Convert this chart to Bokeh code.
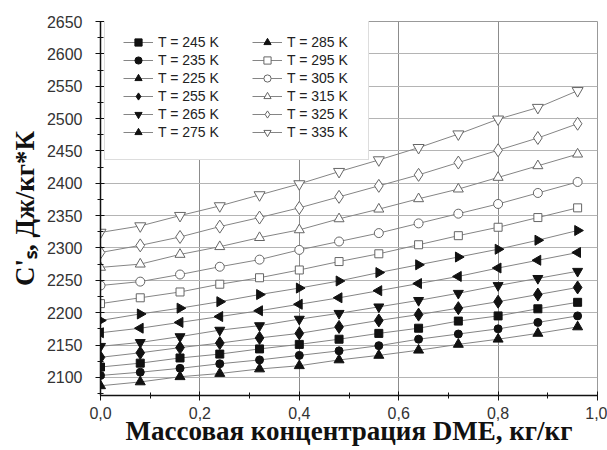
import math
from bokeh.plotting import figure
from bokeh.models import (Legend, LegendItem, SingleIntervalTicker,
                          CustomJSTickFormatter, Range1d)
from bokeh.embed import file_html
from bokeh.resources import INLINE

# ---- data ----
x_conc = [0.0, 0.08, 0.16, 0.24, 0.32, 0.40, 0.48, 0.56, 0.64, 0.72, 0.80, 0.88, 0.96]

cs_225 = [2087, 2093, 2101, 2106, 2113, 2118, 2127, 2134, 2142, 2151, 2159, 2168, 2178]
cs_235 = [2103, 2108, 2114, 2121, 2127, 2134, 2141, 2149, 2159, 2167, 2175, 2185, 2195]
cs_245 = [2116, 2122, 2130, 2136, 2144, 2151, 2159, 2168, 2176, 2187, 2195, 2206, 2216]
cs_255 = [2131, 2138, 2146, 2153, 2161, 2168, 2178, 2188, 2197, 2207, 2217, 2228, 2239]
cs_265 = [2148, 2154, 2163, 2173, 2180, 2190, 2199, 2209, 2219, 2230, 2242, 2253, 2264]
cs_275 = [2169, 2176, 2185, 2194, 2203, 2213, 2223, 2234, 2245, 2256, 2269, 2281, 2293]
cs_285 = [2188, 2198, 2207, 2217, 2228, 2238, 2249, 2262, 2274, 2286, 2298, 2312, 2327]
cs_295 = [2214, 2223, 2232, 2244, 2254, 2266, 2279, 2291, 2305, 2319, 2332, 2347, 2362]
cs_305 = [2242, 2248, 2259, 2271, 2282, 2297, 2310, 2323, 2338, 2353, 2368, 2385, 2402]
cs_315 = [2270, 2275, 2290, 2302, 2316, 2328, 2345, 2360, 2376, 2391, 2409, 2427, 2445]
cs_325 = [2293, 2304, 2317, 2333, 2347, 2362, 2379, 2396, 2413, 2432, 2451, 2470, 2492]
cs_335 = [2324, 2334, 2350, 2365, 2382, 2399, 2418, 2436, 2455, 2476, 2499, 2517, 2543]

legend_labels = ["T = 245 K", "T = 235 K", "T = 225 K", "T = 255 K", "T = 265 K", "T = 275 K",
                 "T = 285 K", "T = 295 K", "T = 305 K", "T = 315 K", "T = 325 K", "T = 335 K"]
series_values = [cs_245, cs_235, cs_225, cs_255, cs_265, cs_275,
                 cs_285, cs_295, cs_305, cs_315, cs_325, cs_335]

x_title = "Массовая концентрация DME, кг/кг"
y_title = "C'ₛ, Дж/кг*К"

# ---- styles ----
styles = [
    ("square", 0.0, True, 8),
    ("circle", 0.0, True, 8),
    ("triangle", 0.0, True, 10),
    ("diamond", 0.0, True, 13),
    ("inverted_triangle", 0.0, True, 10),
    ("triangle", math.pi / 2, True, 10),
    ("triangle", -math.pi / 2, True, 10),
    ("square", 0.0, False, 8),
    ("circle", 0.0, False, 9),
    ("triangle", 0.0, False, 10),
    ("diamond", 0.0, False, 13),
    ("inverted_triangle", 0.0, False, 11),
]

p = figure(width=607, height=450, output_backend="svg", toolbar_location=None,
           x_range=Range1d(0, 1.0), y_range=Range1d(2072, 2650),
           min_border_left=100, min_border_right=10, min_border_top=21, min_border_bottom=55)
p.background_fill_color = "white"
p.border_fill_color = "white"
p.outline_line_color = "#999999"

# axes
p.xaxis.ticker = SingleIntervalTicker(interval=0.2, num_minor_ticks=2)
p.yaxis.ticker = SingleIntervalTicker(interval=50, num_minor_ticks=2)
p.xaxis.formatter = CustomJSTickFormatter(code="return tick.toFixed(1).replace('.', ',');")
for ax in (p.xaxis, p.yaxis):
    ax.axis_line_color = "#111111"
    ax.axis_line_width = 1.5
    ax.major_tick_line_color = "#111111"
    ax.minor_tick_line_color = "#111111"
    ax.major_tick_out = 5
    ax.major_tick_in = 4
    ax.minor_tick_out = 3
    ax.minor_tick_in = 3
    ax.major_label_text_font = "Liberation Sans"
    ax.major_label_text_color = "#333333"
    ax.major_label_text_font_size = "16px"
    ax.axis_label_text_font = "Liberation Serif"
    ax.axis_label_text_font_style = "bold"
    ax.axis_label_text_color = "#111111"
p.yaxis.major_label_standoff = 13
p.xaxis.major_label_standoff = 6

p.xaxis.axis_label = x_title
p.xaxis.axis_label_text_font_size = "27px"
p.xaxis.axis_label_standoff = -6
p.yaxis.axis_label = y_title
p.yaxis.axis_label_text_font_size = "27px"
p.yaxis.axis_label_standoff = 4

p.xgrid.grid_line_color = "#8c8c8c"
p.ygrid.grid_line_color = "#b4b4b4"
p.xgrid.grid_line_width = 1
p.ygrid.grid_line_width = 1

lines = []
for ys in series_values:
    lines.append(p.line(x_conc, ys, line_color="#858585", line_width=1))

items = []
for lbl, ys, ln, (mk, ang, filled, sz) in zip(legend_labels, series_values, lines, styles):
    sc = p.scatter(x_conc, ys, marker=mk, angle=ang, size=sz,
                   fill_color="#111111" if filled else "white",
                   line_color="#111111" if filled else "#666666",
                   line_width=1)
    items.append(LegendItem(label=lbl, renderers=[ln, sc]))

common = dict(orientation="vertical", spacing=0, label_height=18, glyph_height=18,
              glyph_width=30, label_standoff=5, margin=0,
              label_text_font="Liberation Sans", label_text_font_size="14px",
              label_text_color="#222222")
leg_a = Legend(items=items[:6], location=(4, 235), padding=18, label_width=192,
               border_line_color="#bbbbbb", background_fill_color="white",
               background_fill_alpha=1.0, **common)
leg_b = Legend(items=items[6:], location=(152, 254), padding=0, label_width=62,
               border_line_color=None, background_fill_alpha=0.0, **common)
p.add_layout(leg_a, "center")
p.add_layout(leg_b, "center")

open("out.html", "w").write(file_html(p, INLINE))
